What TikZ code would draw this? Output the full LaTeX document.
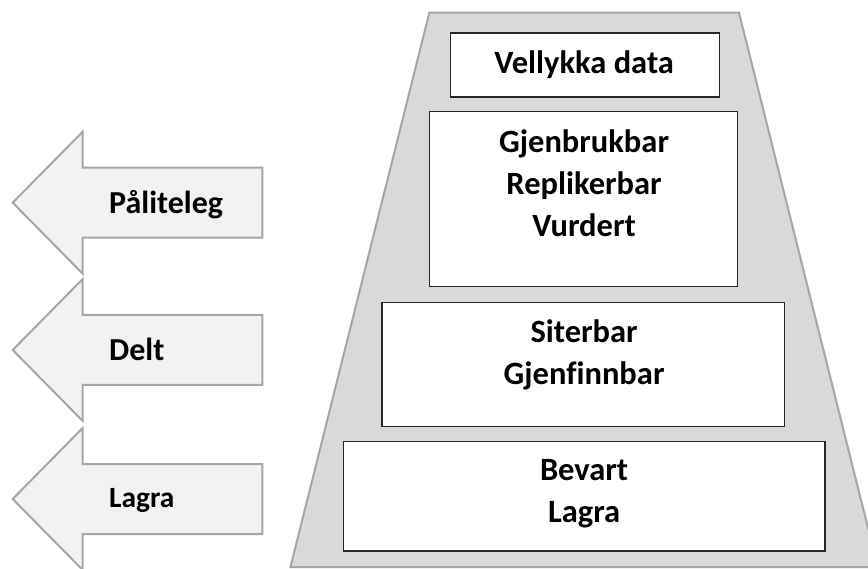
\documentclass[tikz,border=0pt]{standalone}
\usepackage{fontspec}
\setmainfont{Carlito}[Ligatures=NoCommon]
\definecolor{trapfill}{HTML}{D9D9D9}
\definecolor{trapline}{HTML}{A6A6A6}
\definecolor{arrfill}{HTML}{F2F2F2}
\begin{document}
\begin{tikzpicture}[x=1pt,y=-1pt,
  trap/.style={fill=trapfill,draw=trapline,line width=2pt,line join=miter},
  arr/.style={fill=arrfill,draw=trapline,line width=2pt,line join=miter},
  boxstyle/.style={draw=black!85,fill=white,line width=1.3pt,inner sep=0pt,anchor=north west},
  lbl/.style={font=\fontsize{32.5}{42}\selectfont\bfseries,align=center,inner sep=0pt,anchor=base},
  alabel/.style={font=\fontsize{32}{42}\selectfont\bfseries,inner sep=0pt,anchor=base west}]
\useasboundingbox (0,0) rectangle (868,569);
\begin{scope}
\clip (0,0) rectangle (868,569);
\draw[trap] (429.3,12.7) -- (739,12.7) -- (877.8,567) -- (290.5,567) -- cycle;
\foreach \yy in {202.7,350,499}{
  \draw[arr] (12.7,\yy) -- (82.7,\yy-71) -- (82.7,\yy-35) -- (262.3,\yy-35)
    -- (262.3,\yy+35) -- (82.7,\yy+35) -- (82.7,\yy+71) -- cycle;
}
\end{scope}
\node[boxstyle,minimum width=269.2pt,minimum height=64pt] (b1) at (449.5,32.3) {};
\node[boxstyle,minimum width=307.8pt,minimum height=174.7pt] (b2) at (428.9,111) {};
\node[boxstyle,minimum width=402.4pt,minimum height=124.3pt] (b3) at (381.2,301.7) {};
\node[boxstyle,minimum width=481.4pt,minimum height=109.6pt] (b4) at (343,440.7) {};
\node[lbl] (t1) at (584.1,73.3) {Vellykka data};
\node[lbl] (t2) at (584.1,236.7) {Gjenbrukbar\\Replikerbar\\Vurdert};
\node[lbl] (t3) at (584.1,384.3) {Siterbar\\Gjenfinnbar};
\node[lbl] (t4) at (584.1,522.7) {Bevart\\Lagra};
\node[alabel] (a1) at (109,213.3) {Påliteleg};
\node[alabel] (a2) at (109,360.7) {Delt};
\node[alabel,font=\fontsize{29.4}{36}\selectfont\bfseries] (a3) at (109,507.3) {Lagra};
\end{tikzpicture}
\end{document}
